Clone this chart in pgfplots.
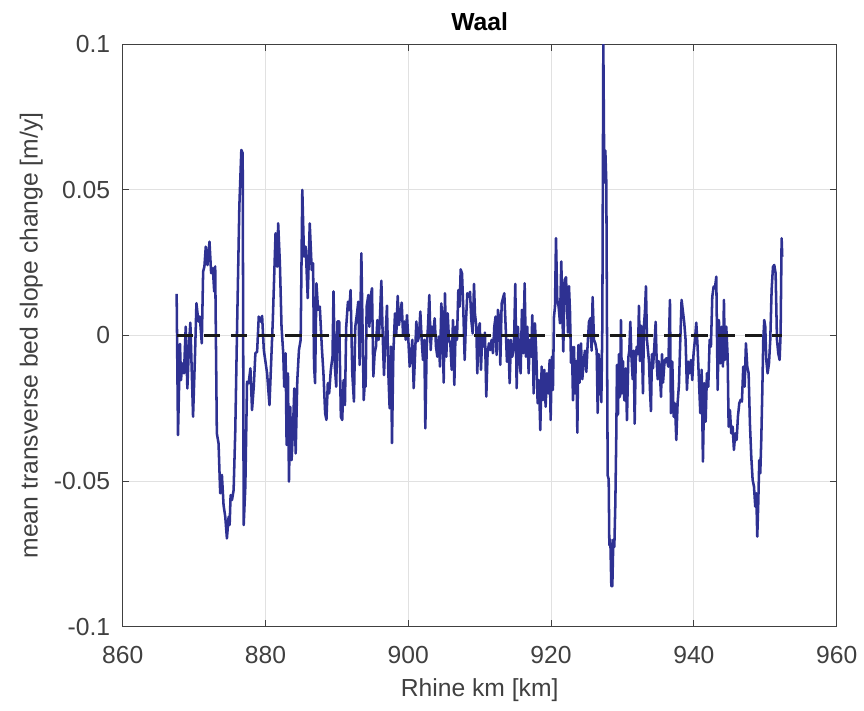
\documentclass[border=0pt]{standalone}
\usepackage{fontspec}
\setmainfont{Liberation Sans}
\usepackage{pgfplots}
\pgfplotsset{compat=1.18}
\definecolor{lineblue}{RGB}{46,49,146}
\definecolor{axgray}{RGB}{64,64,64}
\definecolor{gridgray}{RGB}{225,225,225}
\begin{document}
\fontsize{18.5pt}{22pt}\selectfont
\begin{tikzpicture}
\path[use as bounding box] (-92pt,-63.2pt) rectangle (556pt,470pt);
\begin{axis}[
 at={(0pt,0pt)}, anchor=south west,
 scale only axis, width=535.5pt, height=436.8pt,
 xmin=860, xmax=960, ymin=-0.1, ymax=0.1,
 xtick={860,880,900,920,940,960}, xticklabels={860,880,900,920,940,960},
 ytick={-0.1,-0.05,0,0.05,0.1}, yticklabels={-0.1,-0.05,0,0.05,0.1},
 tick align=inside, major tick length=5pt,
 tick style={axgray, line width=0.6pt},
 axis line style={axgray, line width=0.8pt},
 grid=major, major grid style={gridgray, line width=0.8pt},
 tick label style={text=axgray},
 xticklabel style={yshift=-8pt},
 yticklabel style={xshift=-3pt},
 xlabel={Rhine km [km]}, ylabel={mean transverse bed slope change [m/y]},
 every axis x label/.style={at={(axis description cs:0.5,-0.109)}, anchor=center, text=axgray},
 every axis y label/.style={at={(axis description cs:-0.128,0.5)}, anchor=center, rotate=90, text=axgray},
 title={\textbf{Waal}},
 every axis title/.style={at={(axis description cs:0.5,1.038)}, anchor=center},
]
\addplot[lineblue, line width=1.9pt, line join=round, mark=none] coordinates {
(867.56,0.0143) (867.75,-0.0342) (868.03,-0.0029) (868.17,-0.0153) (868.36,-0.0096) (868.59,-0.0130) (868.83,0.0030) (869.06,-0.0182) (869.30,-0.0027) (869.48,0.0044) (869.86,-0.0279) (870.14,-0.0061) (870.33,0.0111) (870.61,0.0048) (870.80,0.0065) (871.08,-0.0027) (871.27,0.0219) (871.45,0.0237) (871.64,0.0305) (871.88,0.0242) (872.16,0.0322) (872.39,0.0214) (872.63,0.0231) (872.82,0.0151) (872.96,0.0237) (873.19,-0.0336) (873.43,-0.0371) (873.66,-0.0542) (873.90,-0.0479) (874.13,-0.0582) (874.37,-0.0623) (874.60,-0.0697) (874.84,-0.0623) (874.98,-0.0651) (875.12,-0.0548) (875.31,-0.0565) (875.54,-0.0531) (875.77,-0.0330) (876.01,0.0007) (876.34,0.0443) (876.62,0.0637) (876.81,0.0626) (876.95,-0.0651) (877.18,-0.0519) (877.42,-0.0159) (877.65,-0.0164) (877.89,-0.0113) (878.12,-0.0256) (878.36,-0.0176) (878.59,-0.0061) (878.83,-0.0056) (879.06,0.0065) (879.30,0.0048) (879.53,0.0067) (879.77,-0.0050)
(880.23,-0.0130) (880.56,-0.0239) (881.03,0.0053) (881.41,0.0351) (881.64,0.0236) (881.78,0.0385) (882.02,0.0248) (882.25,0.0030) (882.49,-0.0061) (882.63,-0.0176) (882.82,-0.0061) (882.96,-0.0376) (883.15,-0.0130) (883.29,-0.0502) (883.47,-0.0245) (883.66,-0.0428) (883.85,-0.0325) (884.04,-0.0182) (884.23,-0.0405) (884.46,-0.0153) (884.69,-0.0050) (884.93,-0.0015) (885.16,0.0500) (885.40,0.0271) (885.63,0.0305) (885.92,0.0128) (886.20,0.0385) (886.48,0.0225) (886.67,0.0248) (886.81,-0.0107) (886.95,-0.0164) (887.14,0.0179) (887.37,0.0088) (887.61,0.0099) (887.89,-0.0038) (888.12,-0.0130) (888.36,-0.0268) (888.54,-0.0290) (888.73,-0.0164) (888.92,-0.0199) (889.15,-0.0119) (889.39,-0.0073) (889.53,0.0151) (889.72,-0.0107) (889.91,-0.0176) (890.09,0.0048) (890.33,0.0048) (890.56,-0.0279) (890.75,-0.0290) (890.94,-0.0153) (891.13,-0.0239) (891.31,0.0030) (891.55,0.0116) (891.74,0.0088) (891.92,0.0156) (892.16,-0.0130) (892.39,-0.0227) (892.58,0.0030) (892.82,0.0076) (893.00,0.0116) (893.19,-0.0101) (893.43,0.0282) (893.57,0.0065) (893.76,-0.0222) (893.92,-0.0159)
(894.03,-0.0176) (894.17,0.0099) (894.41,0.0139) (894.55,0.0030) (894.73,0.0133) (894.92,0.0162) (895.11,-0.0141) (895.29,-0.0061) (895.48,-0.0038) (895.67,0.0053) (895.85,-0.0015) (896.04,0.0065) (896.23,0.0188) (896.41,0.0007) (896.60,-0.0136) (896.79,-0.0015) (897.02,0.0102) (897.21,-0.0130) (897.39,-0.0250) (897.58,-0.0038) (897.72,-0.0370) (897.91,-0.0061) (898.14,0.0076) (898.33,0.0007) (898.52,0.0136) (898.70,0.0036) (898.89,0.0076) (899.08,0.0113) (899.26,0.0007) (899.45,0.0048) (899.64,-0.0015) (899.82,0.0070) (900.01,-0.0015) (900.20,-0.0107) (900.38,-0.0073) (900.57,-0.0015) (900.76,-0.0181) (900.94,-0.0073) (901.13,0.0048) (901.32,-0.0020) (901.50,-0.0004) (901.69,0.0082) (901.88,-0.0015) (902.06,-0.0084) (902.25,-0.0015) (902.39,-0.0319) (902.58,-0.0038) (902.76,0.0030) (902.95,0.0139) (903.14,-0.0050) (903.32,0.0030) (903.51,0.0007) (903.70,0.0059) (903.88,-0.0038) (904.07,-0.0073) (904.26,-0.0004) (904.44,-0.0107) (904.63,0.0110) (904.82,0.0030) (904.96,-0.0162) (905.14,0.0145) (905.33,-0.0073) (905.52,0.0076) (905.70,-0.0015) (905.89,-0.0027) (906.08,-0.0118) (906.26,0.0053) (906.45,-0.0170) (906.64,0.0030) (906.82,-0.0015) (907.01,0.0156) (907.20,0.0099) (907.34,0.0227) (907.53,0.0213) (907.71,0.0088) (907.90,-0.0084) (908.09,0.0053) (908.27,0.0145) (908.46,0.0133) (908.65,0.0150) (908.83,0.0053) (909.02,0.0007) (909.21,0.0177)
(909.34,0.0076) (909.53,0.0030) (909.67,-0.0130) (909.81,0.0007) (910.01,0.0042) (910.18,-0.0118) (910.37,0.0002) (910.55,-0.0038) (910.74,0.0010) (910.93,-0.0210) (911.11,-0.0061) (911.30,-0.0027) (911.49,-0.0050) (911.67,-0.0015) (911.86,-0.0061) (912.05,0.0030) (912.23,0.0065) (912.37,-0.0067) (912.56,0.0088) (912.75,0.0053) (912.89,-0.0101) (913.08,0.0110) (913.26,0.0128) (913.45,0.0145) (913.64,0.0030) (913.82,-0.0090) (914.01,-0.0015) (914.20,-0.0164) (914.38,-0.0015) (914.57,-0.0073) (914.80,-0.0038) (914.99,0.0177) (915.18,-0.0181) (915.36,0.0030) (915.55,-0.0073) (915.74,-0.0130) (915.92,0.0088) (916.11,-0.0061) (916.30,0.0179) (916.48,-0.0073) (916.67,0.0030) (916.86,-0.0130) (917.04,-0.0015) (917.23,-0.0073) (917.37,0.0070) (917.56,-0.0199) (917.74,0.0042) (917.93,-0.0061) (918.12,-0.0233) (918.30,-0.0153) (918.49,-0.0325) (918.68,-0.0107) (918.86,-0.0222) (919.05,-0.0118) (919.24,-0.0245) (919.42,-0.0130) (919.61,-0.0199) (919.80,-0.0084) (919.94,-0.0290) (920.12,-0.0073) (920.26,-0.0187) (920.41,0.0065) (920.55,0.0099) (920.69,0.0334) (920.87,0.0122) (921.06,0.0099) (921.25,0.0042) (921.43,0.0254) (921.57,0.0099) (921.71,-0.0055) (921.90,0.0191)
(922.09,0.0200) (922.23,0.0108) (922.37,0.0010) (922.51,0.0169) (922.65,0.0083) (922.79,-0.0094) (922.93,-0.0039) (923.07,-0.0223) (923.21,-0.0039) (923.35,-0.0199) (923.54,-0.0088) (923.68,-0.0334) (923.82,-0.0033) (924.00,-0.0162) (924.19,-0.0027) (924.38,-0.0150) (924.56,-0.0088) (924.75,-0.0052) (924.94,-0.0125) (925.12,-0.0033) (925.31,0.0047) (925.50,0.0059) (925.68,-0.0052) (925.82,0.0132) (926.01,-0.0015) (926.20,-0.0027) (926.39,-0.0052) (926.53,-0.0266) (926.67,-0.0064) (926.85,-0.0125) (927.04,-0.0229) (927.18,0.0034) (927.32,0.1000) (927.46,0.0525) (927.60,0.0635) (927.74,0.0525) (927.83,0.0034) (927.93,-0.0481) (928.07,-0.0493) (928.16,-0.0720) (928.30,-0.0701) (928.44,-0.0861) (928.58,-0.0861) (928.72,-0.0701) (928.86,-0.0726) (929.00,-0.0579) (929.14,-0.0334) (929.23,-0.0101) (929.37,-0.0272) (929.51,-0.0064) (929.65,-0.0211) (929.79,0.0053) (929.93,-0.0199) (930.07,-0.0088) (930.26,-0.0223) (930.45,-0.0113) (930.63,-0.0291) (930.82,-0.0076) (930.96,-0.0052) (931.10,0.0047) (931.24,-0.0064) (931.43,-0.0150) (931.57,-0.0052) (931.71,-0.0303) (931.85,-0.0088) (931.99,-0.0039) (932.17,-0.0064) (932.31,0.0102) (932.45,-0.0088) (932.59,0.0034) (932.73,-0.0039) (932.87,-0.0199) (933.01,0.0034) (933.15,0.0083) (933.29,0.0169) (933.43,-0.0015) (933.57,-0.0052) (933.71,-0.0088) (933.85,-0.0186) (933.99,-0.0260) (934.13,-0.0064) (934.27,-0.0113) (934.46,-0.0039) (934.65,0.0047) (934.79,-0.0088) (934.93,-0.0150) (935.07,-0.0088) (935.21,-0.0113) (935.40,-0.0211) (935.54,-0.0064) (935.68,-0.0162) (935.86,-0.0101)
(935.95,-0.0084) (936.18,-0.0078) (936.42,-0.0107) (936.65,0.0122) (936.79,-0.0267) (936.98,-0.0090) (937.16,-0.0279) (937.35,-0.0233) (937.54,-0.0359) (937.72,-0.0233) (937.91,-0.0170) (938.10,-0.0015) (938.28,0.0122) (938.47,0.0082) (938.66,0.0042) (938.84,-0.0015) (939.03,-0.0187) (939.22,-0.0090) (939.40,-0.0130) (939.59,-0.0084) (939.78,-0.0153) (939.96,-0.0061) (940.15,-0.0015) (940.34,0.0044) (940.52,-0.0038) (940.71,-0.0153) (940.90,-0.0267) (941.09,-0.0118) (941.27,-0.0433) (941.46,-0.0164) (941.65,-0.0296) (941.83,-0.0130) (942.02,-0.0176) (942.21,-0.0015) (942.39,-0.0038) (942.58,0.0133) (942.77,0.0168) (942.95,0.0162) (943.14,0.0202) (943.33,-0.0187) (943.51,0.0053) (943.70,-0.0096) (943.89,0.0030) (944.07,-0.0107) (944.21,0.0122) (944.35,-0.0084) (944.54,0.0030) (944.73,-0.0073) (944.87,-0.0313) (945.05,-0.0256) (945.24,-0.0336) (945.43,-0.0313) (945.61,-0.0393) (945.80,-0.0336) (945.99,-0.0359) (946.17,-0.0279) (946.36,-0.0233) (946.55,-0.0221) (946.73,-0.0227) (946.92,-0.0107) (947.11,-0.0176) (947.29,-0.0027) (947.48,-0.0107) (947.67,-0.0130) (947.85,-0.0302) (948.04,-0.0416) (948.23,-0.0496) (948.42,-0.0519) (948.60,-0.0588) (948.74,-0.0542) (948.88,-0.0691) (949.02,-0.0576) (949.16,-0.0428) (949.30,-0.0473) (949.44,-0.0359) (949.58,-0.0199) (949.72,-0.0015) (949.86,0.0053) (950.00,0.0030) (950.14,-0.0084) (950.33,-0.0130) (950.52,-0.0096) (950.70,-0.0015) (950.89,0.0156) (951.08,0.0236) (951.26,0.0242) (951.45,0.0213) (951.64,-0.0015) (951.82,-0.0061) (952.01,-0.0084) (952.15,0.0007) (952.29,0.0334) (952.38,0.0271)
};
\addplot[black!90, line width=1.6pt, dash pattern=on 12.5pt off 7.8pt, mark=none] coordinates {(867.56,0) (952.30,0)};
\end{axis}
\end{tikzpicture}
\end{document}
